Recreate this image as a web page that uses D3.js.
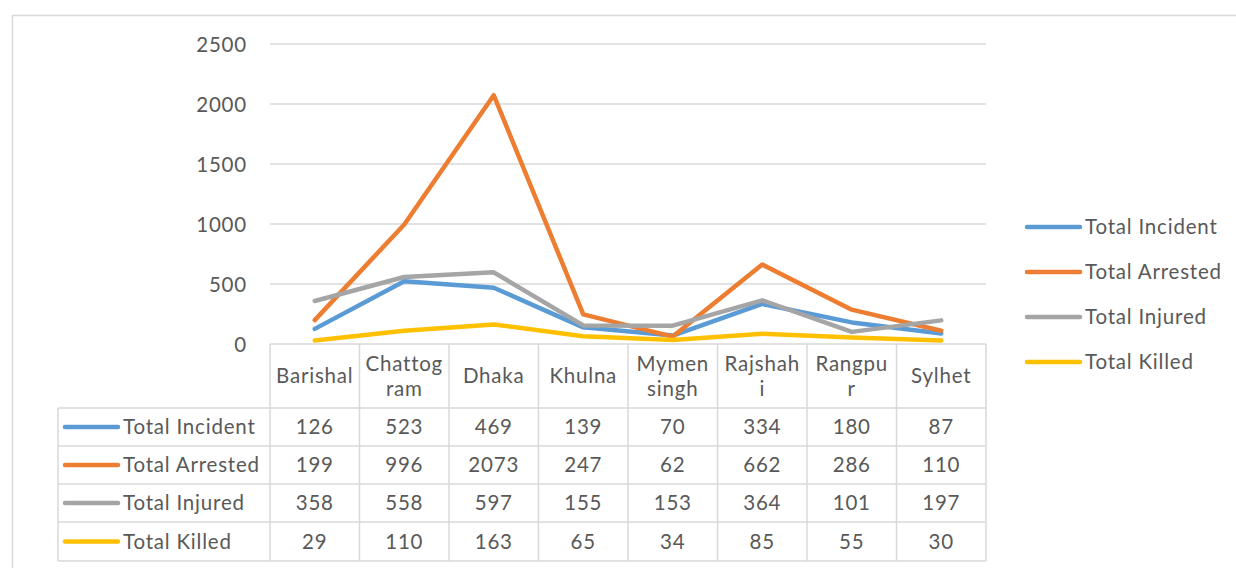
<!DOCTYPE html>
<html><head><meta charset="utf-8">
<script src="https://cdn.jsdelivr.net/npm/d3@7"></script>
<style>body{margin:0;background:#fff}svg{display:block}svg text{letter-spacing:0.8px}</style>
</head><body>
<svg id="c" width="1236" height="568"></svg>
<script>
const categories = ["Barishal","Chattogram","Dhaka","Khulna","Mymensingh","Rajshahi","Rangpur","Sylhet"];
const headerLines = [["Barishal"],["Chattog","ram"],["Dhaka"],["Khulna"],["Mymen","singh"],["Rajshah","i"],["Rangpu","r"],["Sylhet"]];
const seriesNames = ["Total Incident","Total Arrested","Total Injured","Total Killed"];
const totalIncident = [126,523,469,139,70,334,180,87];
const totalArrested = [199,996,2073,247,62,662,286,110];
const totalInjured = [358,558,597,155,153,364,101,197];
const totalKilled = [29,110,163,65,34,85,55,30];
const yTicks = [0,500,1000,1500,2000,2500];
const colors = ["#5B9BD5","#ED7D31","#A5A5A5","#FFC000"];
const seriesValues = [totalIncident,totalArrested,totalInjured,totalKilled];

(function(){
const svg = d3.select("#c");
const FONT = "Lato, 'Open Sans', sans-serif";
const txt = "#595959", grid = "#d9d9d9";
const fs = 20.5;

svg.append("rect").attr("x",12.5).attr("y",15.5).attr("width",1240).attr("height",600)
  .attr("fill","none").attr("stroke",grid).attr("stroke-width",1.5);

const pL = 270, pR = 986, pT = 44, pB = 344;
const x = d3.scaleBand().domain(categories).range([pL,pR]);
const y = d3.scaleLinear().domain([0,2500]).range([pB,pT]);

svg.append("g").selectAll("line").data(yTicks).join("line")
  .attr("x1",pL).attr("x2",pR).attr("y1",d=>y(d)).attr("y2",d=>y(d))
  .attr("stroke",grid).attr("stroke-width",1.5);

const yAxis = d3.axisLeft(y).tickValues(yTicks).tickSize(0).tickPadding(0).tickFormat(d3.format("d"));
const ga = svg.append("g").attr("transform",`translate(247,0)`).call(yAxis);
ga.select(".domain").remove();
ga.selectAll("text").attr("font-family",FONT).attr("font-size",fs).attr("fill",txt).attr("dy","0.35em");

const line = d3.line().x((d,i)=>x(categories[i])+x.bandwidth()/2).y(d=>y(d));
svg.append("g").selectAll("path").data(seriesValues).join("path")
  .attr("d",d=>line(d)).attr("fill","none").attr("stroke",(d,i)=>colors[i])
  .attr("stroke-width",4.5).attr("stroke-linejoin","round").attr("stroke-linecap","round");

const rowTops = [344,408,446,484,522,561];
const tLeft = 58;
const tg = svg.append("g");
const colEdges = categories.map(c=>x(c)).concat([pR]);
tg.selectAll("line.v").data(colEdges).join("line").attr("class","v")
  .attr("x1",d=>d).attr("x2",d=>d).attr("y1",rowTops[0]).attr("y2",rowTops[5])
  .attr("stroke",grid).attr("stroke-width",1.5);
tg.append("line").attr("x1",tLeft).attr("x2",tLeft).attr("y1",rowTops[1]).attr("y2",rowTops[5])
  .attr("stroke",grid).attr("stroke-width",1.5);
tg.selectAll("line.h").data(rowTops.slice(1)).join("line").attr("class","h")
  .attr("x1",tLeft).attr("x2",pR).attr("y1",d=>d).attr("y2",d=>d)
  .attr("stroke",grid).attr("stroke-width",1.5);

headerLines.forEach((ls,i)=>{
  const cx = x(categories[i])+x.bandwidth()/2;
  const cy = (rowTops[0]+rowTops[1])/2;
  const lh = 25;
  ls.forEach((s,j)=>{
    tg.append("text").attr("x",cx).attr("y",cy + (j-(ls.length-1)/2)*lh)
      .attr("dy","0.35em").attr("text-anchor","middle").attr("font-family",FONT)
      .attr("font-size",fs).attr("fill",txt).text(s);
  });
});

seriesNames.forEach((name,r)=>{
  const cy = (rowTops[r+1]+rowTops[r+2])/2;
  tg.append("line").attr("x1",65).attr("x2",118).attr("y1",cy).attr("y2",cy)
    .attr("stroke",colors[r]).attr("stroke-width",4.5).attr("stroke-linecap","round");
  tg.append("text").attr("x",123).attr("y",cy).attr("dy","0.35em").attr("font-family",FONT)
    .attr("font-size",fs).attr("fill",txt).text(name);
  seriesValues[r].forEach((v,i)=>{
    tg.append("text").attr("x",x(categories[i])+x.bandwidth()/2).attr("y",cy).attr("dy","0.35em")
      .attr("text-anchor","middle").attr("font-family",FONT).attr("font-size",fs).attr("fill",txt).text(v);
  });
});

const lg = svg.append("g");
seriesNames.forEach((name,r)=>{
  const cy = 227 + r*45;
  lg.append("line").attr("x1",1027).attr("x2",1080).attr("y1",cy).attr("y2",cy)
    .attr("stroke",colors[r]).attr("stroke-width",4.5).attr("stroke-linecap","round");
  lg.append("text").attr("x",1085).attr("y",cy).attr("dy","0.35em").attr("font-family",FONT)
    .attr("font-size",fs).attr("fill",txt).text(name);
});
})();
</script>
</body></html>
